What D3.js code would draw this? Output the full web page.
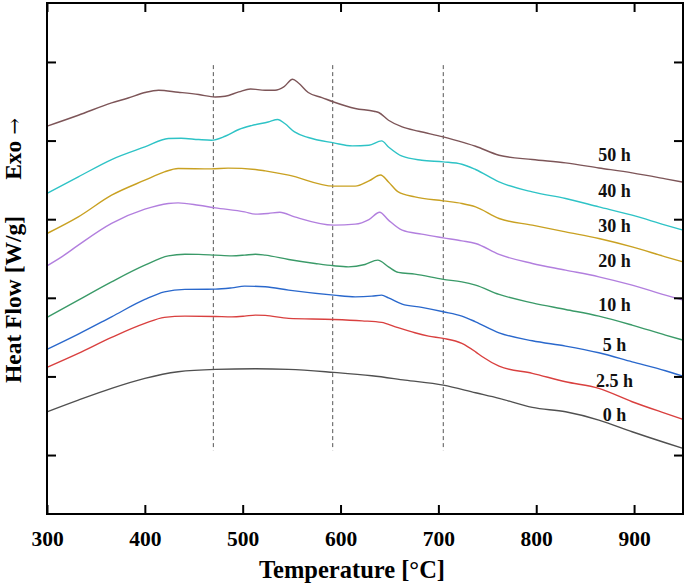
<!DOCTYPE html>
<html><head><meta charset="utf-8">
<script src="https://cdn.jsdelivr.net/npm/d3@7"></script>
<style>
html,body{margin:0;padding:0;background:#fff;}
svg{display:block;}
text{font-family:"Liberation Serif","Times New Roman",serif;font-weight:bold;}
</style></head>
<body>
<script>
// ---- data ----
const xTicks = [300, 400, 500, 600, 700, 800, 900];
const yTicks = [0, 1, 2, 3, 4, 5];
const seriesNames = ["0 h", "2.5 h", "5 h", "10 h", "20 h", "30 h", "40 h", "50 h"];
const seriesColors = ["#505050", "#d9403f", "#2a68cc", "#3a9a68", "#b27fde", "#c9a122", "#2ec3c6", "#7d5558"];
const dashedTemps = [470, 592, 705];
const labelTemp = 880;
const labelValues = [0.432, 0.868, 1.322, 1.835, 2.386, 2.839, 3.284, 3.738];

const h0 = [[300,0.550],[332,0.699],[366,0.848],[400,0.975],[434,1.059],[472,1.090],[513,1.097],[547,1.090],[593,1.051],[632,1.008],[666,0.953],[705,0.890],[738,0.792],[762,0.721],[796,0.606],[830,0.550],[864,0.445],[898,0.296],[932,0.156],[950,0.085]];
const h2_5 = [[300,1.115],[332,1.293],[366,1.496],[400,1.674],[420,1.751],[441,1.767],[472,1.763],[489,1.758],[502,1.767],[513,1.780],[523,1.776],[547,1.738],[593,1.725],[622,1.707],[642,1.687],[656,1.631],[676,1.555],[690,1.513],[705,1.484],[724,1.420],[738,1.313],[745,1.250],[762,1.131],[796,1.039],[830,0.932],[864,0.848],[898,0.678],[932,0.530],[950,0.454]];
const h5 = [[300,1.344],[332,1.538],[366,1.758],[400,1.979],[420,2.076],[441,2.107],[472,2.110],[489,2.127],[502,2.148],[523,2.140],[547,2.098],[593,2.034],[615,2.012],[632,2.021],[642,2.034],[649,2.000],[663,1.920],[683,1.878],[705,1.822],[724,1.767],[738,1.695],[762,1.555],[796,1.453],[830,1.386],[864,1.301],[898,1.186],[932,1.072],[950,1.004]];
const h10 = [[300,1.751],[332,1.971],[366,2.203],[400,2.415],[424,2.534],[441,2.555],[455,2.552],[472,2.543],[489,2.534],[502,2.543],[513,2.555],[523,2.543],[547,2.488],[574,2.437],[593,2.407],[608,2.394],[625,2.424],[638,2.479],[649,2.394],[659,2.323],[676,2.301],[705,2.234],[724,2.203],[738,2.161],[762,2.043],[796,1.936],[830,1.852],[864,1.767],[898,1.653],[932,1.526],[950,1.462]];
const h20 = [[300,2.407],[315,2.521],[332,2.670],[366,2.946],[400,3.127],[424,3.200],[434,3.208],[455,3.178],[472,3.144],[502,3.093],[513,3.064],[526,3.073],[538,3.089],[553,3.029],[593,2.924],[615,2.937],[629,2.996],[640,3.089],[649,2.988],[663,2.860],[683,2.810],[705,2.763],[724,2.724],[738,2.691],[762,2.552],[796,2.437],[830,2.352],[864,2.267],[898,2.161],[932,2.034],[950,1.971]];
const h30 = [[300,2.818],[332,3.029],[366,3.305],[400,3.496],[420,3.602],[434,3.645],[468,3.640],[485,3.649],[513,3.632],[523,3.614],[547,3.560],[593,3.420],[615,3.420],[629,3.487],[641,3.563],[649,3.474],[659,3.347],[676,3.284],[705,3.233],[724,3.200],[738,3.157],[762,3.009],[796,2.924],[830,2.839],[864,2.755],[898,2.648],[932,2.521],[950,2.457]];
const h40 = [[300,3.327],[332,3.538],[366,3.759],[400,3.919],[424,4.026],[437,4.030],[455,4.013],[468,4.005],[482,4.055],[496,4.141],[509,4.191],[526,4.237],[536,4.268],[543,4.217],[553,4.110],[567,4.039],[593,3.970],[612,3.932],[629,3.941],[642,3.996],[649,3.919],[663,3.801],[683,3.750],[705,3.729],[724,3.699],[738,3.632],[762,3.474],[796,3.347],[830,3.263],[864,3.157],[898,3.051],[932,2.924],[950,2.860]];
const h50 = [[300,4.183],[332,4.322],[366,4.479],[383,4.542],[400,4.611],[414,4.640],[434,4.615],[455,4.586],[472,4.555],[482,4.564],[496,4.619],[508,4.657],[523,4.640],[533,4.640],[542,4.682],[551,4.780],[557,4.733],[567,4.611],[581,4.547],[593,4.491],[615,4.408],[634,4.373],[639,4.357],[649,4.259],[663,4.174],[680,4.119],[705,4.047],[727,3.970],[738,3.928],[762,3.814],[796,3.759],[830,3.716],[864,3.652],[898,3.589],[932,3.513],[950,3.471]];
const seriesData = [h0, h2_5, h5, h10, h20, h30, h40, h50];

// ---- layout ----
const W = 685, H = 586;
const m = {left: 47, top: 3, right: 2, bottom: 72};
const svg = d3.select("body").append("svg").attr("width", W).attr("height", H);

const x = d3.scaleLinear().domain([300, 950]).range([m.left, W - m.right]);
const y = d3.scaleLinear().domain([-0.75, 5.75]).range([H - m.bottom, m.top]);

const x0 = x.range()[0], x1 = x.range()[1], yb = y.range()[0], yt = y.range()[1];

// dashed guide lines
svg.append("g").selectAll("line").data(dashedTemps).join("line")
  .attr("x1", d => x(d)).attr("x2", d => x(d))
  .attr("y1", y(4.96)).attr("y2", y(0.06))
  .attr("stroke", "#555").attr("stroke-width", 1).attr("stroke-dasharray", "4,3");

// curves
const line = d3.line().x(d => x(d[0])).y(d => y(d[1])).curve(d3.curveMonotoneX);
svg.append("g").selectAll("path").data(seriesData).join("path")
  .attr("d", line).attr("fill", "none")
  .attr("stroke", (d, i) => seriesColors[i]).attr("stroke-width", 1.4);

// series labels
svg.append("g").selectAll("text").data(seriesNames).join("text")
  .attr("x", x(labelTemp)).attr("y", (d, i) => y(labelValues[i]))
  .attr("text-anchor", "middle").attr("font-size", 18).attr("fill", "#111")
  .text(d => d);

// axes (ticks inward)
const tickLen = 9;
const bottomAxis = d3.axisBottom(x).tickValues(xTicks).tickSizeInner(-tickLen).tickSizeOuter(0).tickPadding(17);
const topAxis = d3.axisTop(x).tickValues(xTicks).tickSizeInner(-tickLen).tickSizeOuter(0).tickFormat("");
const leftAxis = d3.axisLeft(y).tickValues(yTicks).tickSizeInner(-tickLen).tickSizeOuter(0).tickFormat("");
const rightAxis = d3.axisRight(y).tickValues(yTicks).tickSizeInner(-tickLen).tickSizeOuter(0).tickFormat("");

function style(g) {
  g.select(".domain").remove();
  g.selectAll(".tick line").attr("stroke", "#000").attr("stroke-width", 2);
  g.selectAll(".tick text").attr("font-size", 21.5).attr("fill", "#000")
    .style("font-family", '"Liberation Serif","Times New Roman",serif').style("font-weight", "bold");
}
svg.append("g").attr("transform", `translate(0,${yb})`).call(bottomAxis).call(style);
svg.append("g").attr("transform", `translate(0,${yt})`).call(topAxis).call(style);
svg.append("g").attr("transform", `translate(${x0},0)`).call(leftAxis).call(style);
svg.append("g").attr("transform", `translate(${x1},0)`).call(rightAxis).call(style);

// frame
svg.append("rect").attr("x", x0).attr("y", yt).attr("width", x1 - x0).attr("height", yb - yt)
  .attr("fill", "none").attr("stroke", "#000").attr("stroke-width", 2);

// axis titles
svg.append("text").attr("x", 352).attr("y", 578)
  .attr("text-anchor", "middle").attr("font-size", 24.5).attr("fill", "#000")
  .text("Temperature [°C]");
svg.append("text").attr("transform", "translate(21,383) rotate(-90)")
  .attr("text-anchor", "start").attr("font-size", 23.5).attr("fill", "#000")
  .text("Heat Flow [W/g]");
const exo = svg.append("text").attr("transform", "translate(21,118) rotate(-90)")
  .attr("text-anchor", "end").attr("font-size", 23.5).attr("fill", "#000");
exo.append("tspan").text("Exo ");
exo.append("tspan").style("font-family", '"DejaVu Serif",serif').style("font-weight", "normal")
  .attr("font-size", 20).text("→");
</script>
</body></html>
